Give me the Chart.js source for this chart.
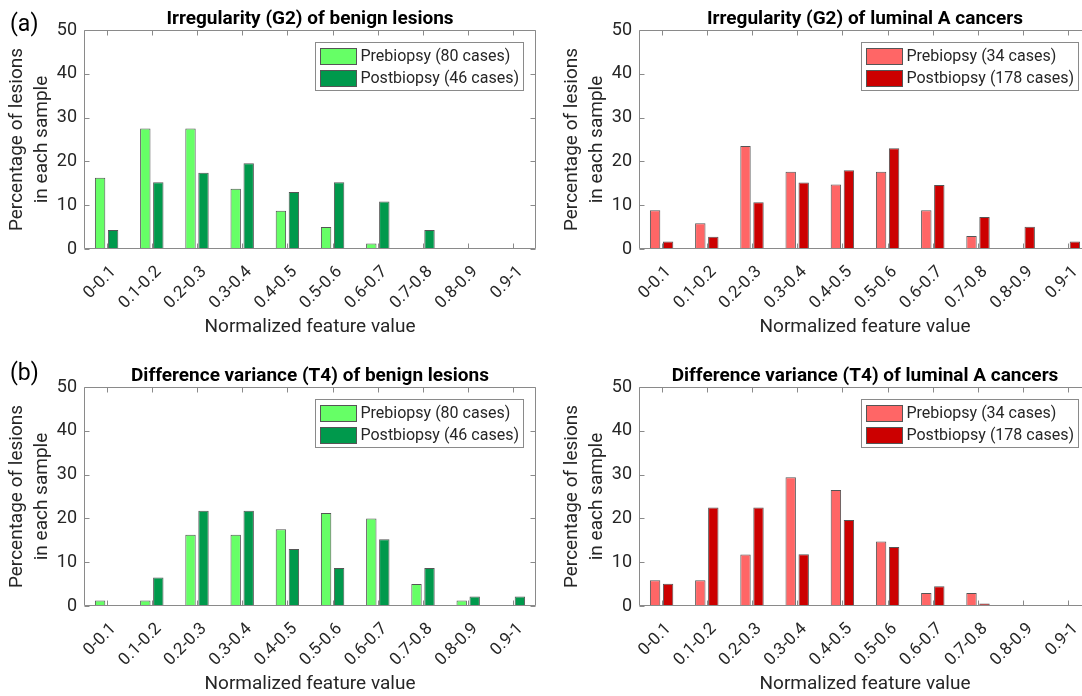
<!DOCTYPE html>
<html>
<head>
<meta charset="utf-8">
<script src="https://cdn.jsdelivr.net/npm/chart.js@4.4.1/dist/chart.umd.min.js"></script>
<style>
  html, body { margin: 0; padding: 0; background: #fff; overflow: hidden; width: 1082px; height: 696px; }
  .panel { position: absolute; }
  canvas { display: block; }
</style>
</head>
<body>
<div class="panel" style="left:0px;top:0px"><canvas id="irrBenign" width="555" height="357"></canvas></div>
<div class="panel" style="left:555px;top:0px"><canvas id="irrLumA" width="555" height="357"></canvas></div>
<div class="panel" style="left:0px;top:357px"><canvas id="dvBenign" width="555" height="357"></canvas></div>
<div class="panel" style="left:555px;top:357px"><canvas id="dvLumA" width="555" height="357"></canvas></div>

<script>
// Histogram bins of the normalized feature value
const bins = ['0-0.1', '0.1-0.2', '0.2-0.3', '0.3-0.4', '0.4-0.5', '0.5-0.6', '0.6-0.7', '0.7-0.8', '0.8-0.9', '0.9-1'];
const yTicks = [0, 10, 20, 30, 40, 50];

// Irregularity (G2), percentage of lesions per bin
const irrBenignPre  = [16.25, 27.5, 27.5, 13.75, 8.75, 5.0, 1.25, 0, 0, 0];
const irrBenignPost = [4.35, 15.22, 17.39, 19.57, 13.04, 15.22, 10.87, 4.35, 0, 0];
const irrLumAPre    = [8.82, 5.88, 23.53, 17.65, 14.71, 17.65, 8.82, 2.94, 0, 0];
const irrLumAPost   = [1.69, 2.81, 10.67, 15.17, 17.98, 23.03, 14.61, 7.30, 5.06, 1.69];

// Difference variance (T4), percentage of lesions per bin
const dvBenignPre   = [1.25, 1.25, 16.25, 16.25, 17.5, 21.25, 20.0, 5.0, 1.25, 0];
const dvBenignPost  = [0, 6.52, 21.74, 21.74, 13.04, 8.70, 15.22, 8.70, 2.17, 2.17];
const dvLumAPre     = [5.88, 5.88, 11.76, 29.41, 26.47, 14.71, 2.94, 2.94, 0, 0];
const dvLumAPost    = [5.06, 22.47, 22.47, 11.80, 19.66, 13.48, 4.49, 0.56, 0, 0];

const benignLabels = ['Prebiopsy (80 cases)', 'Postbiopsy (46 cases)'];
const lumALabels   = ['Prebiopsy (34 cases)', 'Postbiopsy (178 cases)'];

const FONT = 'Roboto, "Open Sans", "DejaVu Sans", sans-serif';
const TEXT = '#262626';
const AXIS = '#8a8a8a';
const EDGE = '#555555';
const GREEN = ['#66ff66', '#00994c'];
const RED   = ['#ff6666', '#cc0000'];

// Titles, axis box with inner ticks, axis titles, panel letter and boxed legend
const panelDecor = {
  id: 'panelDecor',
  afterDatasetsDraw(chart, args, opts) {
    const ctx = chart.ctx;
    const a = chart.chartArea;
    const xs = chart.scales.x, ys = chart.scales.y;
    const L = Math.round(a.left) + 0.5, R = Math.round(a.right) - 0.5;
    const T = Math.round(a.top) + 0.5, B = Math.round(a.bottom) - 0.5;
    ctx.save();

    // axis box
    ctx.strokeStyle = AXIS;
    ctx.lineWidth = 1;
    ctx.beginPath();
    ctx.rect(L, T, R - L, B - T);
    ctx.stroke();

    // inner ticks
    const tl = 5;
    ctx.beginPath();
    for (let i = 0; i < xs.ticks.length; i++) {
      const px = Math.round(xs.getPixelForTick(i)) + 0.5;
      ctx.moveTo(px, B); ctx.lineTo(px, B - tl);
      ctx.moveTo(px, T); ctx.lineTo(px, T + tl);
    }
    yTicks.forEach(v => {
      const py = Math.round(ys.getPixelForValue(v)) + 0.5;
      ctx.moveTo(L, py); ctx.lineTo(L + tl, py);
      ctx.moveTo(R, py); ctx.lineTo(R - tl, py);
    });
    ctx.stroke();

    const cx = (a.left + a.right) / 2;
    const cy = (a.top + a.bottom) / 2;

    // panel title
    ctx.fillStyle = '#000';
    ctx.font = 'bold 19px ' + FONT;
    ctx.textAlign = 'center';
    ctx.textBaseline = 'alphabetic';
    ctx.fillText(opts.title, cx, a.top - 6);

    // x axis title
    ctx.fillStyle = TEXT;
    ctx.font = '19px ' + FONT;
    ctx.fillText('Normalized feature value', cx, a.bottom + 83);

    // y axis title (two lines)
    ctx.textBaseline = 'middle';
    ctx.save();
    ctx.translate(a.left - 67, cy);
    ctx.rotate(-Math.PI / 2);
    ctx.fillText('Percentage of lesions', 0, 0);
    ctx.restore();
    ctx.save();
    ctx.translate(a.left - 42, cy);
    ctx.rotate(-Math.PI / 2);
    ctx.fillText('in each sample', 0, 0);
    ctx.restore();

    // panel letter
    if (opts.letter) {
      ctx.font = '23px ' + FONT;
      ctx.textAlign = 'left';
      ctx.textBaseline = 'alphabetic';
      ctx.fillStyle = '#000';
      ctx.fillText(opts.letter, 10, opts.letterY);
    }

    // legend
    ctx.font = '16px ' + FONT;
    const items = chart.data.datasets;
    let maxW = 0;
    items.forEach(d => { maxW = Math.max(maxW, ctx.measureText(d.label).width); });
    const boxW = Math.round(45 + maxW + 5);
    const boxH = 48;
    const bx = Math.round(a.right - 13 - boxW) + 0.5;
    const by = Math.round(a.top + 12) + 0.5;
    ctx.fillStyle = '#fff';
    ctx.fillRect(bx, by, boxW, boxH);
    ctx.strokeStyle = AXIS;
    ctx.strokeRect(bx, by, boxW, boxH);
    items.forEach((d, i) => {
      const rowY = by + 13.5 + i * 22;
      ctx.fillStyle = d.backgroundColor;
      ctx.fillRect(bx + 5, Math.round(rowY - 8), 36, 16);
      ctx.strokeStyle = EDGE;
      ctx.strokeRect(bx + 5, Math.round(rowY - 8) + 0.5, 36, 16);
      ctx.fillStyle = TEXT;
      ctx.textAlign = 'left';
      ctx.textBaseline = 'middle';
      ctx.fillText(d.label, bx + 45, rowY + 1);
    });

    ctx.restore();
  }
};

function makePanel(id, title, pre, post, labels, colors, letter, letterY) {
  return new Chart(document.getElementById(id), {
    type: 'bar',
    data: {
      labels: bins,
      datasets: [
        { label: labels[0], data: pre, backgroundColor: colors[0], borderColor: EDGE, borderWidth: 1, borderSkipped: false },
        { label: labels[1], data: post, backgroundColor: colors[1], borderColor: EDGE, borderWidth: 1, borderSkipped: false }
      ]
    },
    options: {
      responsive: false,
      animation: false,
      devicePixelRatio: 1,
      categoryPercentage: 0.575,
      barPercentage: 0.8,
      layout: { padding: { left: 0, right: 19, top: 30, bottom: 0 } },
      plugins: {
        legend: { display: false },
        tooltip: { enabled: false },
        panelDecor: { title: title, letter: letter, letterY: letterY }
      },
      scales: {
        x: {
          grid: { display: false, drawTicks: false },
          border: { display: false },
          ticks: {
            autoSkip: false, minRotation: 45, maxRotation: 45, padding: 13, labelOffset: 7,
            color: TEXT, font: { family: FONT, size: 17 }
          },
          afterFit(s) { s.height = 108; }
        },
        y: {
          min: 0, max: 50,
          grid: { display: false, drawTicks: false },
          border: { display: false },
          ticks: {
            stepSize: 10, padding: 7,
            color: TEXT, font: { family: FONT, size: 18 }
          },
          afterFit(s) { s.width = 84; }
        }
      }
    },
    plugins: [panelDecor]
  });
}

makePanel('irrBenign', 'Irregularity (G2) of benign lesions', irrBenignPre, irrBenignPost, benignLabels, GREEN, '(a)', 31);
makePanel('irrLumA', 'Irregularity (G2) of luminal A cancers', irrLumAPre, irrLumAPost, lumALabels, RED, null, 0);
makePanel('dvBenign', 'Difference variance (T4) of benign lesions', dvBenignPre, dvBenignPost, benignLabels, GREEN, '(b)', 23);
makePanel('dvLumA', 'Difference variance (T4) of luminal A cancers', dvLumAPre, dvLumAPost, lumALabels, RED, null, 0);
</script>
</body>
</html>
